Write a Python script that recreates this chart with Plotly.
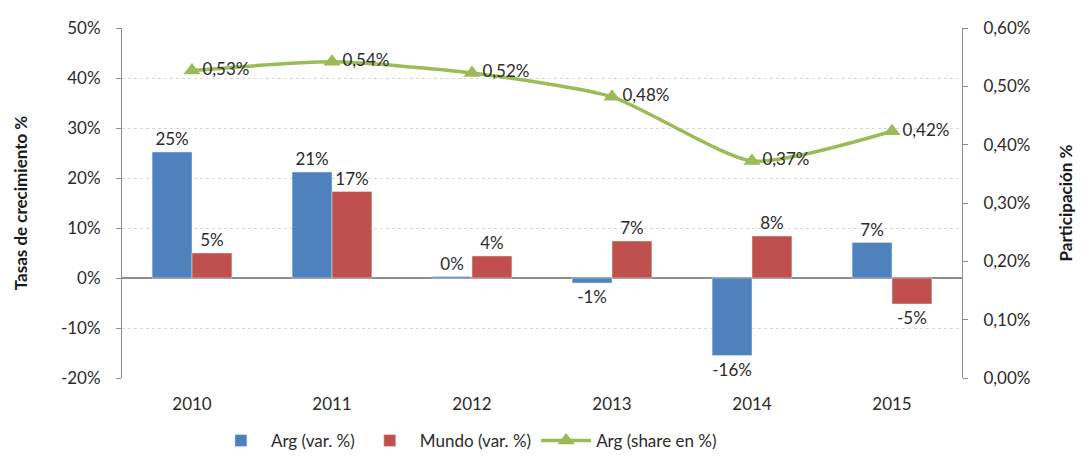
import plotly.graph_objects as go

years = ['2010', '2011', '2012', '2013', '2014', '2015']
arg_var = [25.2, 21.2, 0.3, -1.0, -15.5, 7.1]
mundo_var = [5.0, 17.3, 4.4, 7.4, 8.4, -5.2]
arg_share = [0.527, 0.542, 0.523, 0.482, 0.372, 0.423]

left_ticks = [-20, -10, 0, 10, 20, 30, 40, 50]
left_tick_text = ['-20%', '-10%', '0%', '10%', '20%', '30%', '40%', '50%']

BLUE = '#4F81BD'
RED = '#C0504D'
GREEN = '#9BBB59'
FONT = 'Lato'
TXT = '#2b2b2b'
AXIS = '#8c8c8c'


def pct(v):
    return f'{v:.0f}%'


def pct2(v):
    return f'{v:.2f}%'.replace('.', ',')


fig = go.Figure()
fig.add_trace(go.Bar(
    x=years, y=arg_var, name='Arg (var. %)',
    marker=dict(color=BLUE),
    text=[pct(v) for v in arg_var], textposition='outside',
    textfont=dict(size=17, color=TXT), cliponaxis=False,
))
fig.add_trace(go.Bar(
    x=years, y=mundo_var, name='Mundo (var. %)',
    marker=dict(color=RED),
    text=[pct(v) for v in mundo_var], textposition='outside',
    textfont=dict(size=17, color=TXT), cliponaxis=False,
))
fig.add_trace(go.Scatter(
    x=years, y=arg_share, name='Arg (share en %)', yaxis='y2',
    mode='lines+markers+text',
    line=dict(color=GREEN, width=3.5, shape='spline', smoothing=0.6),
    marker=dict(symbol='triangle-up', size=15, color=GREEN),
    text=[pct2(v) for v in arg_share], textposition='middle right',
    textfont=dict(size=17, color=TXT), cliponaxis=False,
))

# page body has an 8px margin, so the figure is sized to fit inside it
fig.update_layout(
    width=1069, height=445,
    margin=dict(l=114, r=115, t=20, b=75, autoexpand=False),
    paper_bgcolor='white', plot_bgcolor='white',
    font=dict(family=FONT, size=17, color=TXT),
    barmode='group', bargap=0.43, bargroupgap=0,
    showlegend=True,
    legend=dict(orientation='h', x=0.41, xanchor='center', y=-0.18, yanchor='middle',
                font=dict(size=17, color=TXT), tracegroupgap=0, itemwidth=50,
                traceorder='normal'),
    xaxis=dict(
        showgrid=False, showline=False, ticks='', zeroline=False,
        ticklabelstandoff=14,
        tickfont=dict(size=17, color=TXT),
    ),
    yaxis=dict(
        range=[-20, 50], tickvals=left_ticks, ticktext=left_tick_text,
        showgrid=True, gridcolor='#d9d9d9', griddash='dot', gridwidth=1,
        zeroline=True, zerolinecolor=AXIS, zerolinewidth=1.5,
        showline=True, linecolor=AXIS, linewidth=1,
        ticks='outside', ticklen=5, tickcolor=AXIS,
        ticklabelstandoff=12,
        tickfont=dict(size=17, color=TXT),
        title=dict(text='<b>Tasas de crecimiento %</b>', font=dict(size=17, color='#1a1a1a'), standoff=28),
    ),
    yaxis2=dict(
        overlaying='y', side='right', range=[0, 0.6], dtick=0.1,
        tickformat='.2f', ticksuffix='%',
        showgrid=False, zeroline=False,
        showline=True, linecolor=AXIS, linewidth=1,
        ticks='outside', ticklen=5, tickcolor=AXIS,
        ticklabelstandoff=12,
        tickfont=dict(size=17, color=TXT),
        title=dict(text='<b>Participación %</b>', font=dict(size=17, color='#1a1a1a'), standoff=30),
    ),
    separators=',.',
)

fig.write_html('out.html')
